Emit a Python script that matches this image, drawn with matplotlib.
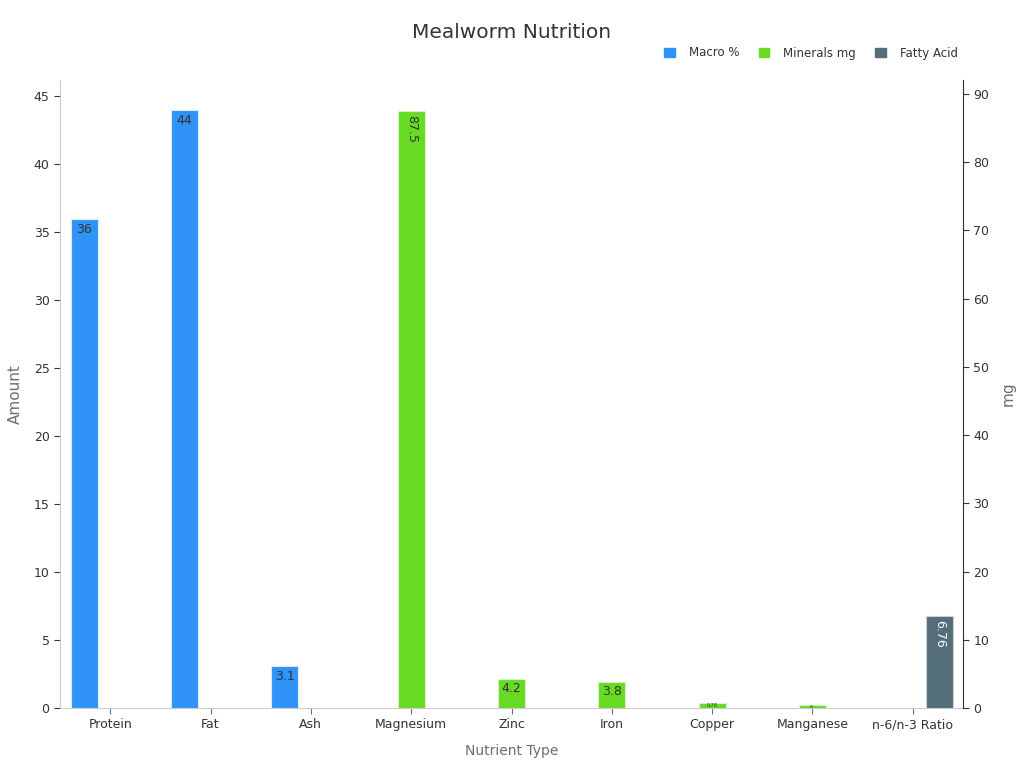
import numpy as np
import matplotlib
matplotlib.use("Agg")
import matplotlib.pyplot as plt
from matplotlib.patches import Patch

categories = ["Protein", "Fat", "Ash", "Magnesium", "Zinc", "Iron",
              "Copper", "Manganese", "n-6/n-3 Ratio"]

macro_idx = [0, 1, 2]
macro_vals = [36, 44, 3.1]

mineral_idx = [3, 4, 5, 6, 7]
mineral_vals = [87.5, 4.2, 3.8, 0.78, 0.4]

fatty_idx = [8]
fatty_vals = [6.76]

series_names = ["Macro %", "Minerals mg", "Fatty Acid"]

c_blue = "#2f93f7"
c_green = "#67db24"
c_slate = "#546e7a"
c_text = "#333333"
c_axis = "#6e6e6e"

plt.rcParams["font.family"] = ["DejaVu Sans"]

fig = plt.figure(figsize=(10.24, 7.68), dpi=100)
ax = fig.add_axes([60 / 1024, 60 / 768, (963 - 60) / 1024, (708 - 80) / 768])
ax2 = ax.twinx()

w = 0.27
off = [-0.26, 0.0, 0.27]

b1 = ax.bar(np.array(macro_idx) + off[0], macro_vals, w, color=c_blue,
            edgecolor="#dbeafd", linewidth=0.8, zorder=3)
b3 = ax.bar(np.array(fatty_idx) + off[2], fatty_vals, w, color=c_slate,
            edgecolor="#c9d3d7", linewidth=0.8, zorder=3)
b2 = ax2.bar(np.array(mineral_idx) + off[1], mineral_vals, w, color=c_green,
             edgecolor="#d4f5c2", linewidth=0.8, zorder=3)

# value labels inside the top of each bar
for rect, v in zip(b1, macro_vals):
    ax.annotate(f"{v:g}", (rect.get_x() + rect.get_width() / 2, v),
                xytext=(0, -3), textcoords="offset points",
                ha="center", va="top", fontsize=9, color=c_text, zorder=4)

for rect, v in zip(b2, mineral_vals):
    x = rect.get_x() + rect.get_width() / 2
    if v > 50:
        ax2.annotate(f"{v:g}", (x, v), xytext=(0, -3), textcoords="offset points",
                     ha="center", va="top", fontsize=9, color=c_text,
                     rotation=-90, zorder=4)
    elif v > 2:
        ax2.annotate(f"{v:g}", (x, v), xytext=(0, -2), textcoords="offset points",
                     ha="center", va="top", fontsize=9, color=c_text, zorder=4)
    else:
        ax2.annotate(f"{v:g}", (x, v / 2), ha="center", va="center",
                     fontsize=3.5 if v > 0.5 else 2, color=c_text, zorder=4)

for rect, v in zip(b3, fatty_vals):
    ax.annotate(f"{v:g}", (rect.get_x() + rect.get_width() / 2, v),
                xytext=(0, -3), textcoords="offset points",
                ha="center", va="top", fontsize=9, color="white",
                rotation=-90, zorder=4)

ax.set_xlim(-0.5, 8.5)
ax.set_ylim(0, 46.2)
ax2.set_ylim(0, 92.05)
ax.set_yticks(np.arange(0, 46, 5))
ax2.set_yticks(np.arange(0, 91, 10))
ax.set_xticks(range(len(categories)))
ax.set_xticklabels(categories)

for a in (ax, ax2):
    a.tick_params(labelsize=9, colors=c_text, length=4)
    a.spines["top"].set_visible(False)
ax.spines["left"].set_color("#cccccc")
ax.spines["bottom"].set_color("#cccccc")
ax.spines["right"].set_visible(False)
ax2.spines["left"].set_visible(False)
ax2.spines["bottom"].set_visible(False)
ax2.spines["right"].set_color("#333333")
ax.tick_params(axis="y", color="#333333")
ax.tick_params(axis="x", color="#6e6e6e")

ax.set_ylabel("Amount", fontsize=11, color=c_axis, labelpad=8)
ax2.set_ylabel("mg", fontsize=11, color=c_axis, labelpad=8)
ax.set_xlabel("Nutrient Type", fontsize=10, color=c_axis, labelpad=9)

fig.text(512 / 1024, 1 - 33 / 768, "Mealworm Nutrition", ha="center", va="center",
         fontsize=14.5, color=c_text)

handles = [Patch(color=c_blue), Patch(color=c_green), Patch(color=c_slate)]
fig.legend(handles, series_names, loc="center right",
           bbox_to_anchor=(966 / 1024, 1 - 53 / 768), ncol=3, frameon=False,
           fontsize=8.5, handlelength=0.9, handleheight=0.9, handletextpad=1.2,
           columnspacing=1.6, labelcolor=c_text, borderpad=0.2)

fig.savefig("out.png", dpi=100)
